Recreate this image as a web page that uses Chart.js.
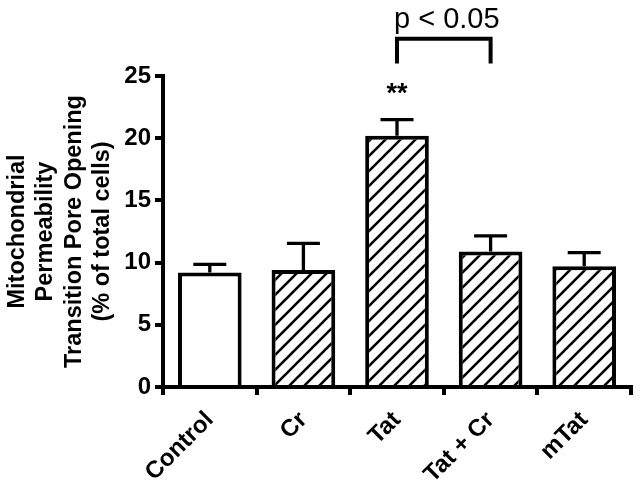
<!DOCTYPE html>
<html>
<head>
<meta charset="utf-8">
<script src="https://cdn.jsdelivr.net/npm/chart.js@4"></script>
<style>
  html, body { margin: 0; padding: 0; background: #fff; }
  #wrap { width: 641px; height: 485px; }
</style>
</head>
<body>
<div id="wrap"><canvas id="chart" width="641" height="485"></canvas></div>
<script>
const groups = ["Control", "Cr", "Tat", "Tat + Cr", "mTat"];
const means = [9.2, 9.4, 20.2, 10.9, 9.7];
const sem = [0.65, 2.15, 1.3, 1.25, 1.1];
const hatched = [false, true, true, true, true];
const yTicks = [0, 5, 10, 15, 20, 25];
const yTitle = ["Mitochondrial", "Permeability", "Transition Pore Opening", "(% of total cells)"];
const sigLabel = "p < 0.05";
const sigPair = [2, 3];
const starLabel = "**";
const starGroup = 2;

function hatch() {
    const s = 15;
    const c = document.createElement('canvas');
    c.width = s; c.height = s;
    const g = c.getContext('2d');
    g.fillStyle = '#fff';
    g.fillRect(0, 0, s, s);
    g.strokeStyle = '#000';
    g.lineWidth = 2.6;
    g.beginPath();
    g.moveTo(-2, s + 2); g.lineTo(s + 2, -2);
    g.moveTo(-2, 2); g.lineTo(2, -2);
    g.moveTo(s - 2, s + 2); g.lineTo(s + 2, s - 2);
    g.stroke();
    return document.getElementById('chart').getContext('2d').createPattern(c, 'repeat');
}
const pat = hatch();

// error bars + significance marks
const extras = {
    id: 'extras',
    afterDatasetsDraw(chart) {
        const { ctx, scales: { x, y } } = chart;
        const meta = chart.getDatasetMeta(0);
        ctx.save();
        ctx.strokeStyle = '#000';
        ctx.lineCap = 'butt';
        ctx.lineWidth = 3.3;
        meta.data.forEach((bar, i) => {
            const top = y.getPixelForValue(means[i]);
            const hi = y.getPixelForValue(means[i] + sem[i]);
            const half = 16.5;
            ctx.beginPath();
            ctx.moveTo(bar.x, top);
            ctx.lineTo(bar.x, hi);
            ctx.moveTo(bar.x - half, hi);
            ctx.lineTo(bar.x + half, hi);
            ctx.stroke();
        });

        // bracket
        const x1 = x.getPixelForValue(sigPair[0]);
        const x2 = x.getPixelForValue(sigPair[1]);
        const yb = y.getPixelForValue(28.0);
        const yl = y.getPixelForValue(26.0);
        ctx.lineWidth = 4;
        ctx.lineJoin = 'miter';
        ctx.beginPath();
        ctx.moveTo(x1, yl);
        ctx.lineTo(x1, yb);
        ctx.lineTo(x2, yb);
        ctx.lineTo(x2, yl);
        ctx.stroke();

        ctx.fillStyle = '#000';
        ctx.textAlign = 'center';
        ctx.textBaseline = 'alphabetic';
        ctx.font = '29px "Liberation Sans", Arial, sans-serif';
        ctx.fillText(sigLabel, (x1 + x2) / 2 + 3, y.getPixelForValue(28.85));

        ctx.font = 'bold 27px "Liberation Sans", Arial, sans-serif';
        ctx.fillText(starLabel, x.getPixelForValue(starGroup), y.getPixelForValue(22.9));
        ctx.restore();
    }
};

new Chart(document.getElementById('chart'), {
    type: 'bar',
    data: {
        labels: groups,
        datasets: [{
            data: means,
            backgroundColor: hatched.map(h => h ? pat : '#fff'),
            borderColor: '#000',
            borderWidth: 4,
            borderSkipped: 'start',
            barPercentage: 0.68,
            categoryPercentage: 1.0
        }]
    },
    options: {
        responsive: false,
        animation: false,
        devicePixelRatio: 1,
        layout: { padding: { top: 76, right: 10, left: 0, bottom: 0 } },
        plugins: { legend: { display: false }, tooltip: { enabled: false } },
        scales: {
            x: {
                grid: { display: true, drawOnChartArea: false, drawTicks: true, tickLength: 8, lineWidth: 4, color: '#000' },
                border: { display: true, color: '#000', width: 4 },
                ticks: {
                    color: '#000',
                    minRotation: 45, maxRotation: 45,
                    padding: 11,
                    font: { family: '"Liberation Sans", Arial, sans-serif', size: 24, weight: 'bold' }
                },
                afterFit(s) { s.height = 98; }
            },
            y: {
                min: 0, max: 25,
                afterBuildTicks(s) { s.ticks = yTicks.map(v => ({ value: v })); },
                grid: { display: true, drawOnChartArea: false, drawTicks: true, tickLength: 8, lineWidth: 4, color: '#000' },
                border: { display: true, color: '#000', width: 4 },
                ticks: {
                    color: '#000',
                    padding: 4,
                    font: { family: '"Liberation Sans", Arial, sans-serif', size: 24, weight: 'bold' }
                },
                title: {
                    display: true,
                    text: yTitle,
                    color: '#000',
                    padding: { top: 3, bottom: 0 },
                    font: { family: '"Liberation Sans", Arial, sans-serif', size: 23.5, weight: 'bold', lineHeight: 1.21 }
                },
                afterFit(s) { s.width = 163; }
            }
        }
    },
    plugins: [extras]
});
</script>
</body>
</html>
